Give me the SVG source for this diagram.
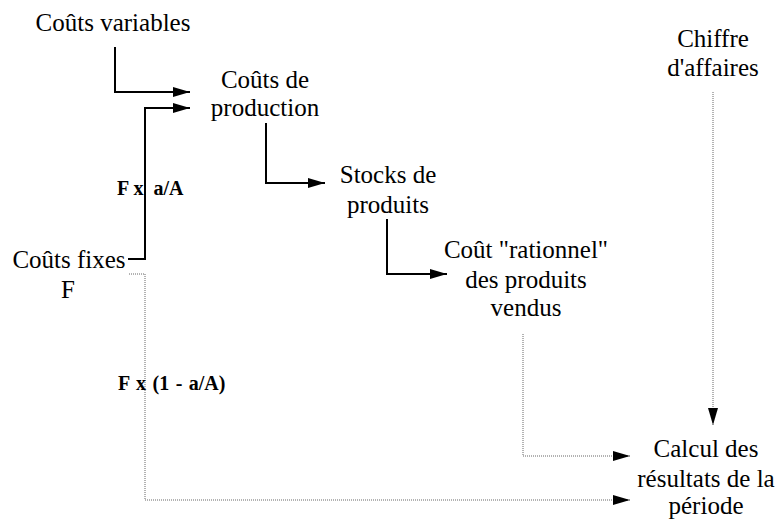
<svg xmlns="http://www.w3.org/2000/svg" width="777" height="519" viewBox="0 0 777 519">
<style>
.s{fill:none;stroke:#000;stroke-width:2}
.d{fill:none;stroke:#666;stroke-width:1;stroke-dasharray:1 1}
</style>
<defs>
<marker id="ah" viewBox="0 0 17 10" refX="17" refY="5" markerWidth="17" markerHeight="10" markerUnits="userSpaceOnUse" orient="auto">
<path d="M0,0 L17,5 L0,10 Z" fill="#000"/>
</marker>
</defs>
<rect width="777" height="519" fill="#fff"/>
<g id="connectors">
<path class="s" d="M115,47 V92 H190" marker-end="url(#ah)"/>
<path class="s" d="M128,259 H145 V108 H190" marker-end="url(#ah)"/>
<path class="s" d="M266,123 V183 H325" marker-end="url(#ah)"/>
<path class="s" d="M387,219 V274 H447" marker-end="url(#ah)"/>
<path class="d" d="M523,334 V456 H630" marker-end="url(#ah)"/>
<path class="d" d="M713,92 V425" marker-end="url(#ah)"/>
<path class="d" d="M129,274 H145 V500 H630" marker-end="url(#ah)"/>
</g>
<g font-family="Liberation Serif" font-size="25" text-anchor="middle" fill="#000">
<g id="couts-variables"><text x="113" y="31">Coûts variables</text></g>
<g id="couts-production"><text x="265" y="88">Coûts de</text><text x="265" y="116">production</text></g>
<g id="stocks"><text x="388" y="183">Stocks de</text><text x="388" y="213">produits</text></g>
<g id="cout-rationnel"><text x="526" y="258">Coût "rationnel"</text><text x="526" y="288">des produits</text><text x="526" y="316">vendus</text></g>
<g id="chiffre"><text x="713" y="47">Chiffre</text><text x="713" y="76">d'affaires</text></g>
<g id="couts-fixes"><text x="69" y="268">Coûts fixes</text><text x="68" y="298">F</text></g>
<g id="calcul"><text x="706" y="457">Calcul des</text><text x="706" y="487">résultats de la</text><text x="706" y="514">période</text></g>
</g>
<g id="labels" font-family="Liberation Serif" font-size="20" font-weight="bold" fill="#000"><text x="117" y="195" xml:space="preserve">F x  a/A</text><text x="118" y="390" xml:space="preserve" word-spacing="1.5">F x (1 - a/A)</text></g>
</svg>
